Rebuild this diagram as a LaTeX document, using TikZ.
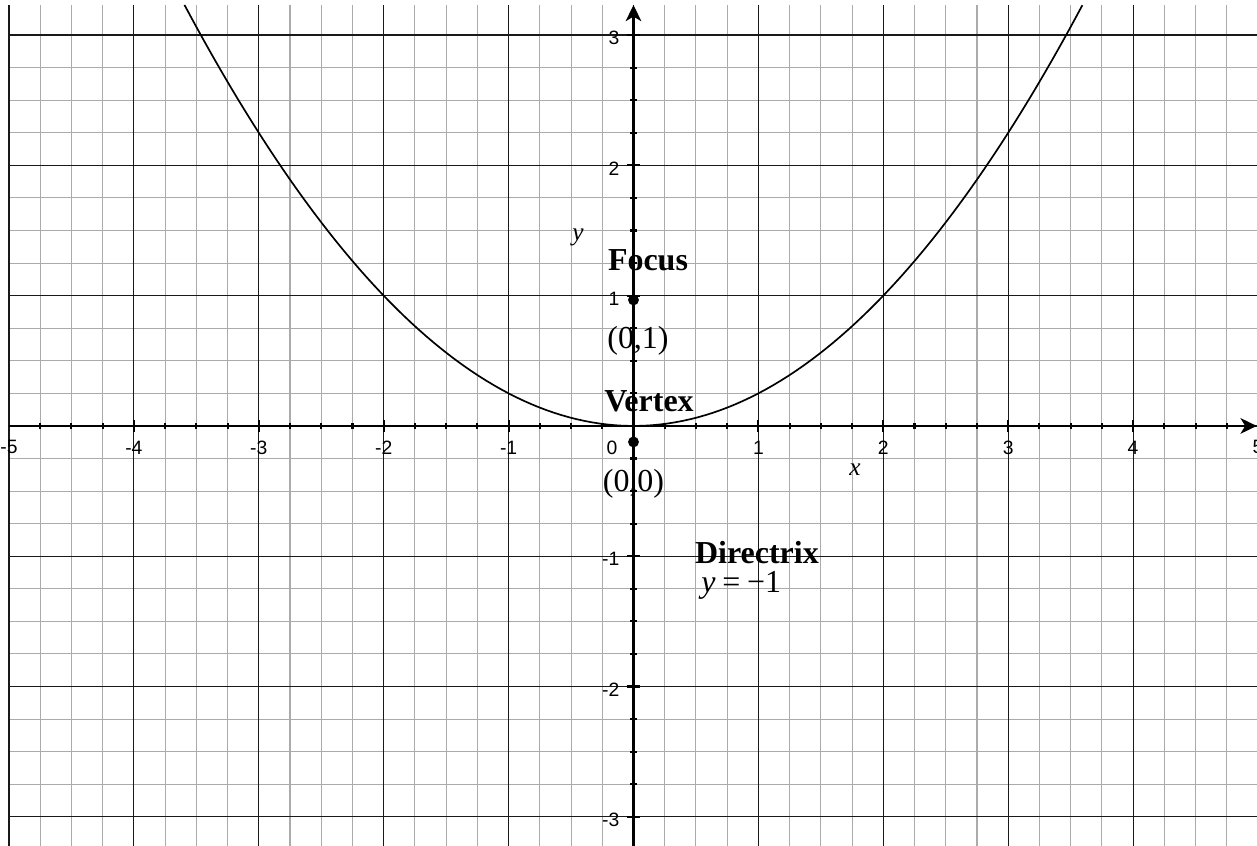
\documentclass[tikz,border=0pt]{standalone}
\usepackage{fontspec}
\setmainfont{Liberation Serif}
\setsansfont{Liberation Sans}
\usetikzlibrary{arrows.meta}
\begin{document}
\begin{tikzpicture}[x=1.249cm,y=1.303cm,
  minorgrid/.style={draw=black!33,line width=0.3pt},
  majorgrid/.style={draw=black!90,line width=0.32pt},
  axisline/.style={line width=0.8pt,-{Stealth[length=4.6pt,width=4.4pt,inset=1.3pt]}},
  tickline/.style={line width=0.6pt},
  curve/.style={line width=0.48pt},
  dot/.style={circle,fill=black,inner sep=0pt,minimum size=3.1pt},
  ticklab/.style={font=\sffamily\fontsize{5.5}{6.5}\selectfont,inner sep=0pt},
  boldlab/.style={font=\bfseries\fontsize{9.1}{11}\selectfont,inner sep=0pt},
  plainlab/.style={font=\fontsize{9.1}{11}\selectfont,inner sep=0pt},
  axislab/.style={font=\itshape\fontsize{7.2}{9}\selectfont,inner sep=0pt}
]
\useasboundingbox (-5.072,-3.223) rectangle (4.992,3.269);
% grid
\foreach \i in {-19,...,19}{
  \draw[minorgrid] ({\i/4},-3.223) -- ({\i/4},3.231);
}
\foreach \j in {-12,...,12}{
  \draw[minorgrid] (-5,{\j/4}) -- (4.992,{\j/4});
}
\foreach \i in {-5,...,4}{
  \draw[majorgrid] (\i,-3.223) -- (\i,3.231);
}
\foreach \j in {-3,...,3}{
  \draw[majorgrid] (-5,\j) -- (4.992,\j);
}
% parabola
\draw[curve] plot[domain=-3.595:3.595,samples=120] (\x,{\x*\x/4});
% axes
\coordinate (xs) at (-5,0);
\coordinate (xe) at (4.99,0);
\coordinate (ys) at (0,-3.223);
\coordinate (ye) at (0,3.231);
\draw[axisline] (xs) -- (xe);
\draw[axisline] (ys) -- (ye);
% ticks
\foreach \i in {-19,...,19}{
  \ifnum\i=0\else
  \draw[tickline] ({\i/4},0) ++(0,-0.9pt) -- ++(0,1.8pt);
  \fi
}
\foreach \i in {-4,...,4}{
  \ifnum\i=0\else
  \draw[tickline] (\i,0) ++(0,-1.8pt) -- ++(0,3.6pt);
  \fi
}
\foreach \j in {-12,...,12}{
  \ifnum\j=0\else
  \draw[tickline] (0,{\j/4}) ++(-0.9pt,0) -- ++(1.8pt,0);
  \fi
}
\foreach \j in {-3,...,3}{
  \ifnum\j=0\else
  \draw[tickline] (0,\j) ++(-1.9pt,0) -- ++(3.8pt,0);
  \fi
}
% tick labels
\foreach \i/\n in {-5/xm5,-4/xm4,-3/xm3,-2/xm2,-1/xm1,1/xp1,2/xp2,3/xp3,4/xp4,5/xp5}{
  \node[ticklab] (\n) at (\i,-0.165) {\i};
}
\node[ticklab] (xo) at (-0.172,-0.165) {0};
\foreach \j/\n in {-3/ym3,-2/ym2,-1/ym1,1/yp1,2/yp2,3/yp3}{
  \node[ticklab,anchor=east] (\n) at (-0.108,{\j-0.023}) {\j};
}
% points
\node[dot] (focus) at (0,0.967) {};
\node[dot] (vertex) at (0,-0.123) {};
% labels
\node[boldlab] (focuslab) at (0.116,1.274) {Focus};
\node[plainlab] (focuscoord) at (0.036,0.650) {(0,1)};
\node[boldlab] (vertexlab) at (0.124,0.192) {Vertex};
\node[plainlab] (vertexcoord) at (0,-0.447) {(0,0)};
\node[boldlab] (directrixlab) at (0.988,-0.975) {Directrix};
\node[plainlab] (directrixeq) at (0.863,-1.225) {\textit{y}\kern1.9pt=\kern1.9pt−1};
\node[axislab] (xlab) at (1.773,-0.338) {x};
\node[axislab] (ylab) at (-0.444,1.443) {y};
\end{tikzpicture}
\end{document}
